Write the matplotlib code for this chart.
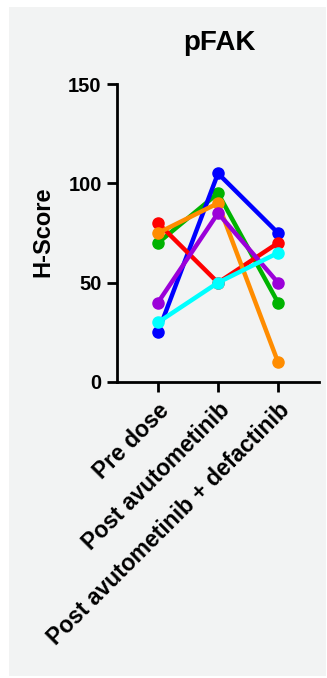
import matplotlib
matplotlib.use("Agg")
import matplotlib.pyplot as plt
import matplotlib.transforms as mtransforms
from matplotlib.patches import Rectangle

categories = ["Pre dose", "Post avutometinib", "Post avutometinib + defactinib"]
blue = [25, 105, 75]
green = [70, 95, 40]
orange = [75, 90, 10]
red = [80, 50, 70]
purple = [40, 85, 50]
cyan = [30, 50, 65]

series = [
    (green, "#00b300"),
    (blue, "#0000ff"),
    (red, "#ff0000"),
    (orange, "#ff8c00"),
    (purple, "#9b00d9"),
    (cyan, "#00ffff"),
]

plt.rcParams['font.family'] = ['Liberation Sans', 'DejaVu Sans']
W, H = 327, 678
fig = plt.figure(figsize=(W / 100, H / 100), dpi=100)
fig.patch.set_facecolor("white")
fig.patches.append(Rectangle((9 / W, 1 - 676 / H), (326 - 9) / W, (676 - 7) / H,
                             transform=fig.transFigure, facecolor="#f2f3f3",
                             edgecolor="none", zorder=-10))

ax = fig.add_axes([117 / W, 1 - 382 / H, (319 - 117) / W, (382 - 84) / H])
ax.set_facecolor("none")
x = list(range(len(categories)))
for vals, c in series:
    ax.plot(x, vals, color=c, lw=3.2, marker="o", ms=8, solid_capstyle="round",
            clip_on=False)

ax.set_xlim(-0.683, 2.683)
ax.set_ylim(0, 150)
ax.set_yticks([0, 50, 100, 150])
ax.set_xticks(x)
ax.set_xticklabels(categories, rotation=45, ha="right", rotation_mode="anchor",
                   fontsize=16.5, fontweight="bold")
offset = mtransforms.ScaledTranslation(-0.045, -0.05, fig.dpi_scale_trans)
for lab in ax.get_xticklabels():
    lab.set_transform(lab.get_transform() + offset)
for lab in ax.get_yticklabels():
    lab.set_fontweight("bold")
    lab.set_fontsize(14.5)
for s in ["top", "right"]:
    ax.spines[s].set_visible(False)
for s in ["left", "bottom"]:
    ax.spines[s].set_linewidth(2.0)
ax.tick_params(axis="both", length=7, width=2.0)
ax.tick_params(axis="y", pad=4)
ax.tick_params(axis="x", pad=5)

fig.text(219 / W, 1 - 50 / H, "pFAK", ha="center", va="baseline",
         fontsize=20, fontweight="bold")
fig.text(42.5 / W, 1 - 232 / H, "H-Score", ha="center", va="center",
         rotation=90, fontsize=17, fontweight="bold")

fig.savefig("out.png", dpi=100)
